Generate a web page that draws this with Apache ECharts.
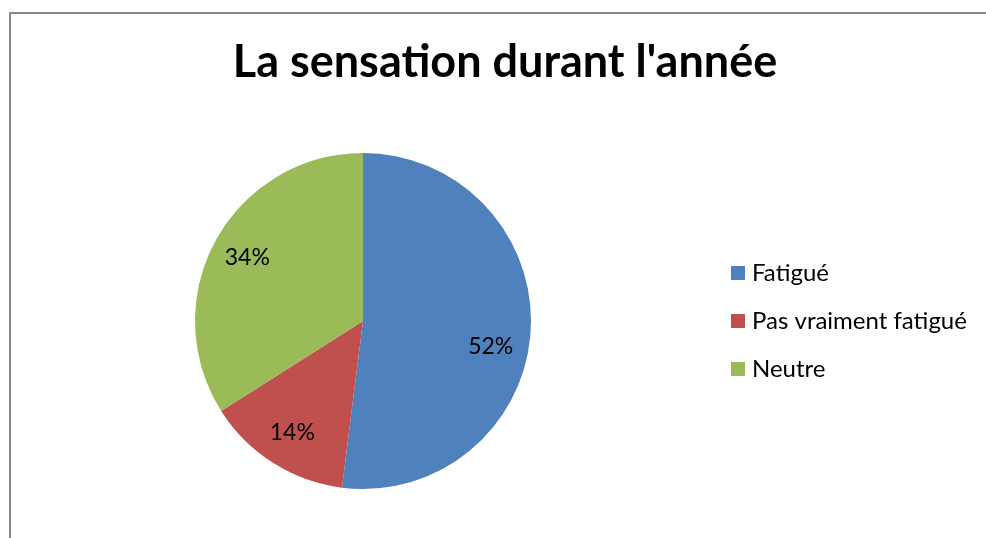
<!DOCTYPE html>
<html>
	<head>
		<meta charset="utf-8">
		<script src="https://cdn.jsdelivr.net/npm/echarts@6/dist/echarts.min.js"></script>
		<style>
			html, body { margin:0; padding:0; background:#fff; }
			#frame { position:absolute; left:9px; top:12px; width:977px; height:526px;
				border-left:2px solid #888; border-top:2px solid #888; box-sizing:border-box; }
			#main { position:absolute; left:0; top:0; width:986px; height:538px; }
		</style>
	</head>
	<body>
		<div id="frame"></div>
		<div id="main"></div>
		<script>
			var titleText = "La sensation durant l'année";
			var categories = ['Fatigué', 'Pas vraiment fatigué', 'Neutre'];
			var values = [52, 14, 34];
			var colors = ['#4F81BD', '#C0504D', '#9BBB59'];

			var pieData = [];
			var labelData = [];
			for (var i = 0; i < categories.length; i++) {
				pieData.push({name: categories[i], value: values[i], itemStyle: {color: colors[i]}});
				var item = {name: categories[i], value: values[i]};
				// Excel pushes the big slice's label a bit down
				if (i == 0) item.label = {offset: [-4, 17]};
				labelData.push(item);
			}

			var option = {
				backgroundColor: 'transparent',
				animation: false,
				title: {
					text: titleText,
					left: 505,
					top: 40,
					padding: 0,
					textAlign: 'center',
					textStyle: {fontFamily: 'Lato', fontWeight: 'bold', fontSize: 45, color: '#000'}
				},
				legend: {
					orient: 'vertical',
					left: 731,
					top: 260,
					padding: 0,
					itemWidth: 14,
					itemHeight: 14,
					itemGap: 22,
					icon: 'rect',
					data: categories,
					textStyle: {fontFamily: 'Lato', fontSize: 24, color: '#000', lineHeight: 26, padding: [0, 0, 0, 2]}
				},
				series: [
					{
						type: 'pie',
						center: [363, 321],
						radius: [0, 168],
						startAngle: 90,
						clockwise: true,
						label: {show: false},
						labelLine: {show: false},
						emphasis: {disabled: true},
						data: pieData
					},
					{
						// transparent ring only used to place labels at ~0.77r
						type: 'pie',
						center: [363, 321],
						radius: [90, 168],
						startAngle: 90,
						clockwise: true,
						silent: true,
						legendHoverLink: false,
						itemStyle: {color: 'rgba(0,0,0,0)'},
						label: {
							show: true,
							position: 'inside',
							formatter: '{d}%',
							fontFamily: 'Lato',
							fontSize: 23,
							color: '#000'
						},
						labelLine: {show: false},
						emphasis: {disabled: true},
						data: labelData
					}
				]
			};
			var myChart = echarts.init(document.getElementById('main'));
			myChart.setOption(option, true);
		</script>
	</body>
</html>
